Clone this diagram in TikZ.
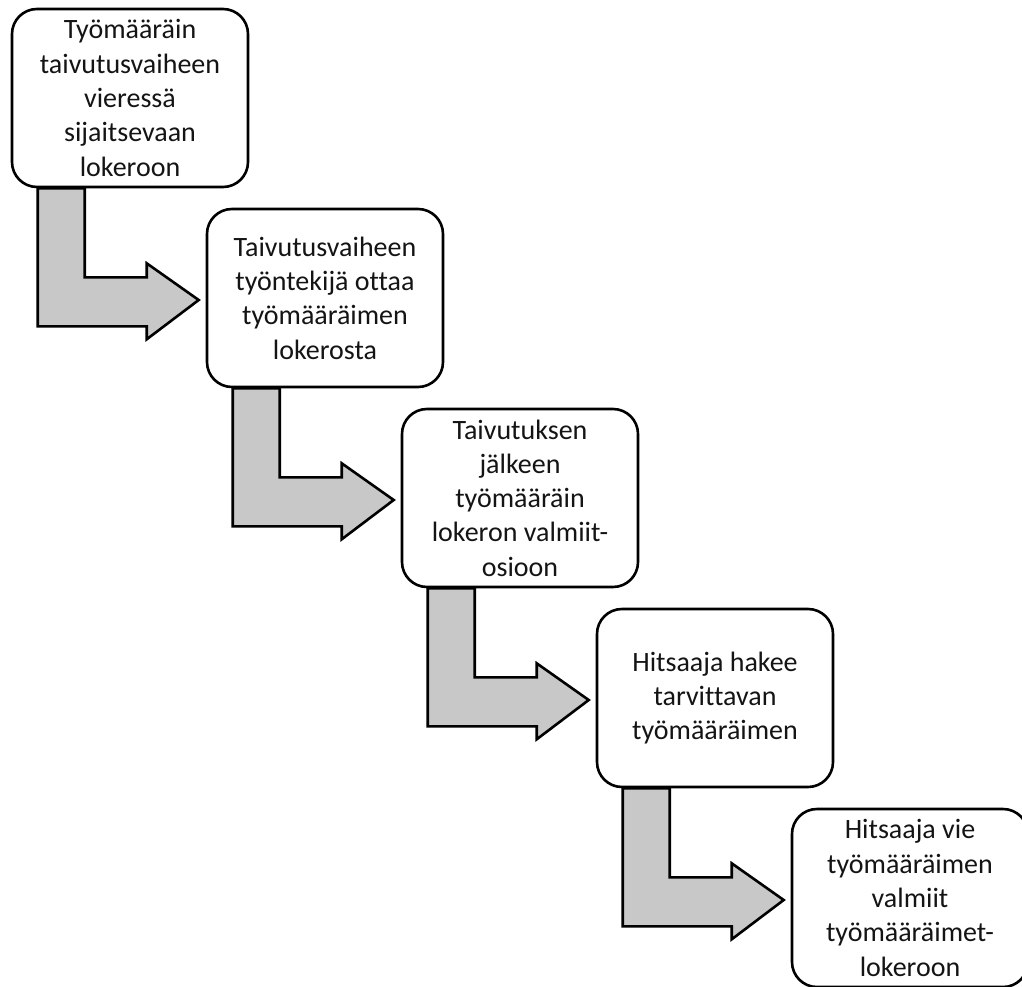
\documentclass[tikz,border=0pt]{standalone}
\usepackage{fontspec}
\setmainfont{Carlito}[Ligatures=NoCommon]
\usetikzlibrary{calc}
\pgfdeclarelayer{background}
\pgfsetlayers{background,main}
\definecolor{arrowgray}{RGB}{200,200,200}
\definecolor{textdark}{RGB}{20,20,20}
\begin{document}
\begin{tikzpicture}[x=1pt,y=-1pt,
  stepbox/.style={draw=black, line width=2.6pt, fill=white, rounded corners=25pt,
    minimum width=236pt, minimum height=178pt, inner sep=0pt,
    align=center, text=textdark, font=\fontsize{28}{34.3}\selectfont},
  bentarrow/.style={draw=black, line width=2.6pt, fill=arrowgray, line join=miter}]
\useasboundingbox (0,0) rectangle (1022,987);

% process steps, each shifted down and to the right
\node[stepbox] (s1) at (130,98)  {Työmääräin\\taivutusvaiheen\\vieressä\\sijaitsevaan\\lokeroon};
\node[stepbox] (s2) at (325,298) {Taivutusvaiheen\\työntekijä ottaa\\työmääräimen\\lokerosta};
\node[stepbox] (s3) at (520,498) {Taivutuksen\\jälkeen\\työmääräin\\lokeron valmiit-\\osioon};
\node[stepbox] (s4) at (715,698) {Hitsaaja hakee\\tarvittavan\\työmääräimen};
\node[stepbox] (s5) at (910,898) {Hitsaaja vie\\työmääräimen\\valmiit\\työmääräimet-\\lokeroon};

% bent block arrows from the bottom of one step towards the next step
\begin{pgfonlayer}{background}
\foreach \a/\b in {s1/s2,s2/s3,s3/s4,s4/s5}{
  \coordinate (tip) at ($(\b.west)+(-7,2)$);
  \draw[bentarrow]
    ($(\a.south west)+(27,0)$) -- ($(\a.south west)+(74,0)$)
    -- ($(\a.south west)+(74,89)$) -- ($(\a.south west)+(136,89)$)
    -- ($(\a.south west)+(136,75)$) -- (tip)
    -- ($(\a.south west)+(136,151)$) -- ($(\a.south west)+(136,138)$)
    -- ($(\a.south west)+(27,138)$) -- cycle;
}
\end{pgfonlayer}
\end{tikzpicture}
\end{document}
